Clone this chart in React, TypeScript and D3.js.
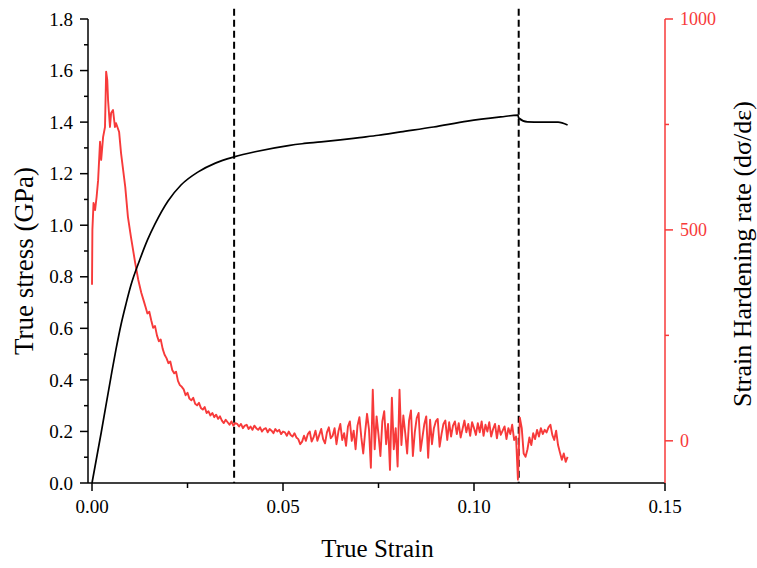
import React from 'react'
import * as d3 from 'd3'

const WIDTH = 757
const HEIGHT = 568
const PLOT = { left: 88, right: 665, top: 19, bottom: 483 }
const FONT = '"Liberation Serif", "DejaVu Serif", serif'
const RED = '#f73a3a'

// true stress-strain curve (GPa)
const stressStrain = [
  0, 0.0024, 0.005, 0.0063, 0.0076, 0.0089, 0.0102, 0.0125, 0.0145, 0.0165, 0.0199, 0.0233, 0.0278,
  0.0323, 0.0372, 0.0427, 0.0514, 0.055, 0.06, 0.065, 0.07, 0.075, 0.0808, 0.0894, 0.0983, 0.107,
  0.1115, 0.1117, 0.114, 0.1175, 0.122, 0.1245
]
const stressValues = [
  0, 0.195, 0.415, 0.52, 0.615, 0.695, 0.768, 0.866, 0.942, 1.005, 1.094, 1.156, 1.207,
  1.241, 1.265, 1.285, 1.309, 1.316, 1.323, 1.331, 1.34, 1.349, 1.362, 1.381, 1.404, 1.42,
  1.427, 1.416, 1.401, 1.4, 1.4, 1.389
]

// strain hardening rate, early part (strain, rate)
const rateEarlyStrain = [
  0, 0.0001, 0.0004, 0.0008, 0.0012, 0.0016, 0.0021, 0.0024, 0.0029, 0.0034, 0.0037, 0.004, 0.0042,
  0.0047, 0.005, 0.0055, 0.006, 0.0063, 0.0071, 0.0076, 0.0087, 0.0094, 0.0102, 0.0113, 0.0121,
  0.0129, 0.0136
]
const rateEarly = [
  370, 500, 564, 547, 578, 618, 709, 666, 720, 744, 875, 855, 808,
  744, 777, 784, 744, 753, 732, 682, 602, 531, 483, 422, 382,
  351, 330
]

// later part, sampled every 0.0005 strain from 0.014
const NOISY_START = 0.014
const NOISY_STEP = 0.0005
const rateNoisy = [
  318, 302, 306, 286, 268, 272, 250, 236, 240, 218,
  204, 196, 184, 188, 168, 160, 164, 142, 132, 128,
  122, 108, 114, 100, 96, 102, 88, 84, 90, 78,
  74, 80, 66, 70, 60, 66, 56, 62, 52, 58,
  48, 42, 50, 44, 38, 46, 36, 42, 40, 34,
  40, 30, 36, 38, 28, 34, 26, 36, 30, 26,
  32, 22, 28, 30, 20, 28, 24, 18, 28, 22,
  26, 16, 22, 20, 12, 22, 14, 10, 18, 8,
  4, -8, -2, 12, 0, 16, 22, -2, 8, 24,
  0, 14, 28, 4, -6, 20, 32, 6, 12, 30,
  -8, 22, 40, 2, 18, -12, 34, 46, 0, 24,
  -20, 36, 56, 8, -30, 20, 64, 28, -64, 121,
  -20, 58, 14, -36, 46, 70, -8, 40, -69, 102,
  -20, 30, -61, 121, -10, 60, 18, -30, 48, 72,
  -36, 20, 54, 66, -24, 8, 40, 58, -40, 50,
  -8, 30, 46, 52, -14, 16, 40, 48, 2, 44,
  10, 36, 46, 16, 42, 8, 28, 48, 20, 40,
  12, 44, 30, 14, 42, 20, 46, 12, 38, 22,
  44, 10, 28, 40, 6, 36, 14, 24, 34, 4,
  30, 16, 38, 2, 10, -92, 55, 30, -30, -38,
  -20, 8, -10, 18, 4, 26, 10, 30, 16, 26,
  20, 32, 38, 14, 2, 24, -10, -28, -45, -30,
  -50, -38
]

const dashedStrains = [0.0372, 0.1117]

const strainTicks = [0, 0.05, 0.1, 0.15]
const strainMinor = [0.025, 0.075, 0.125]
const stressTicks = [0, 0.2, 0.4, 0.6, 0.8, 1.0, 1.2, 1.4, 1.6, 1.8]
const stressMinor = [0.1, 0.3, 0.5, 0.7, 0.9, 1.1, 1.3, 1.5, 1.7]
const rateTicks = [0, 500, 1000]
const rateMinor = [250, 750]

const x = d3.scaleLinear().domain([-0.00105, 0.15]).range([PLOT.left, PLOT.right])
const yL = d3.scaleLinear().domain([0, 1.8]).range([PLOT.bottom, PLOT.top])
const yR = d3.scaleLinear().domain([-100, 1000]).range([PLOT.bottom, PLOT.top])

const App = () => {
  const stressPts: [number, number][] = stressStrain.map((s, i) => [s, stressValues[i]])
  const ratePts: [number, number][] = [
    ...rateEarlyStrain.map((s, i): [number, number] => [s, rateEarly[i]]),
    ...rateNoisy.map((r, i): [number, number] => [NOISY_START + i * NOISY_STEP, r])
  ]

  const stressLine = d3.line<[number, number]>().x(d => x(d[0])).y(d => yL(d[1])).curve(d3.curveMonotoneX)
  const rateLine = d3.line<[number, number]>().x(d => x(d[0])).y(d => yR(d[1]))

  return (
    <svg width={WIDTH} height={HEIGHT} style={{ position: 'absolute', left: 0, top: 0, background: '#fff' }}
      fontFamily={FONT}>
      {/* dashed markers */}
      {dashedStrains.map(s => (
        <line key={s} x1={x(s)} x2={x(s)} y1={yL(1.84)} y2={PLOT.bottom}
          stroke="#000" strokeWidth={2} strokeDasharray="7,4" />
      ))}

      <path d={rateLine(ratePts) ?? ''} fill="none" stroke={RED} strokeWidth={1.9} strokeLinejoin="round" />
      <path d={stressLine(stressPts) ?? ''} fill="none" stroke="#000" strokeWidth={1.7} />

      {/* left axis */}
      <line x1={PLOT.left} x2={PLOT.left} y1={PLOT.top} y2={PLOT.bottom} stroke="#000" strokeWidth={1.5} />
      {stressTicks.map(t => (
        <g key={t}>
          <line x1={PLOT.left - 8} x2={PLOT.left} y1={yL(t)} y2={yL(t)} stroke="#000" strokeWidth={1.5} />
          <text x={PLOT.left - 15} y={yL(t)} dy="0.35em" textAnchor="end" fontSize={19}>{d3.format('.1f')(t)}</text>
        </g>
      ))}
      {stressMinor.map(t => (
        <line key={t} x1={PLOT.left - 4} x2={PLOT.left} y1={yL(t)} y2={yL(t)} stroke="#000" strokeWidth={1.5} />
      ))}

      {/* bottom axis */}
      <line x1={PLOT.left} x2={PLOT.right} y1={PLOT.bottom} y2={PLOT.bottom} stroke="#000" strokeWidth={1.5} />
      {strainTicks.map(t => (
        <g key={t}>
          <line x1={x(t)} x2={x(t)} y1={PLOT.bottom} y2={PLOT.bottom + 8} stroke="#000" strokeWidth={1.5} />
          <text x={x(t)} y={PLOT.bottom + 30} textAnchor="middle" fontSize={19}>{d3.format('.2f')(t)}</text>
        </g>
      ))}
      {strainMinor.map(t => (
        <line key={t} x1={x(t)} x2={x(t)} y1={PLOT.bottom} y2={PLOT.bottom + 5} stroke="#000" strokeWidth={1.5} />
      ))}

      {/* right axis */}
      <line x1={PLOT.right} x2={PLOT.right} y1={PLOT.top} y2={PLOT.bottom} stroke={RED} strokeWidth={1.5} />
      {rateTicks.map(t => (
        <g key={t}>
          <line x1={PLOT.right} x2={PLOT.right + 8} y1={yR(t)} y2={yR(t)} stroke={RED} strokeWidth={1.5} />
          <text x={PLOT.right + 15} y={yR(t)} dy="0.35em" fontSize={18} fill={RED}>{t}</text>
        </g>
      ))}
      {rateMinor.map(t => (
        <line key={t} x1={PLOT.right} x2={PLOT.right + 4} y1={yR(t)} y2={yR(t)} stroke={RED} strokeWidth={1.5} />
      ))}

      {/* titles */}
      <text x={(PLOT.left + PLOT.right) / 2 + 1} y={557} textAnchor="middle" fontSize={25}>True Strain</text>
      <text transform={`translate(33,261) rotate(-90)`} textAnchor="middle" fontSize={27}>
        True stress (GPa)
      </text>
      <text transform={`translate(751,254) rotate(-90)`} textAnchor="middle" fontSize={26}>
        Strain Hardening rate (dσ/dε)
      </text>
    </svg>
  )
}

export default App
